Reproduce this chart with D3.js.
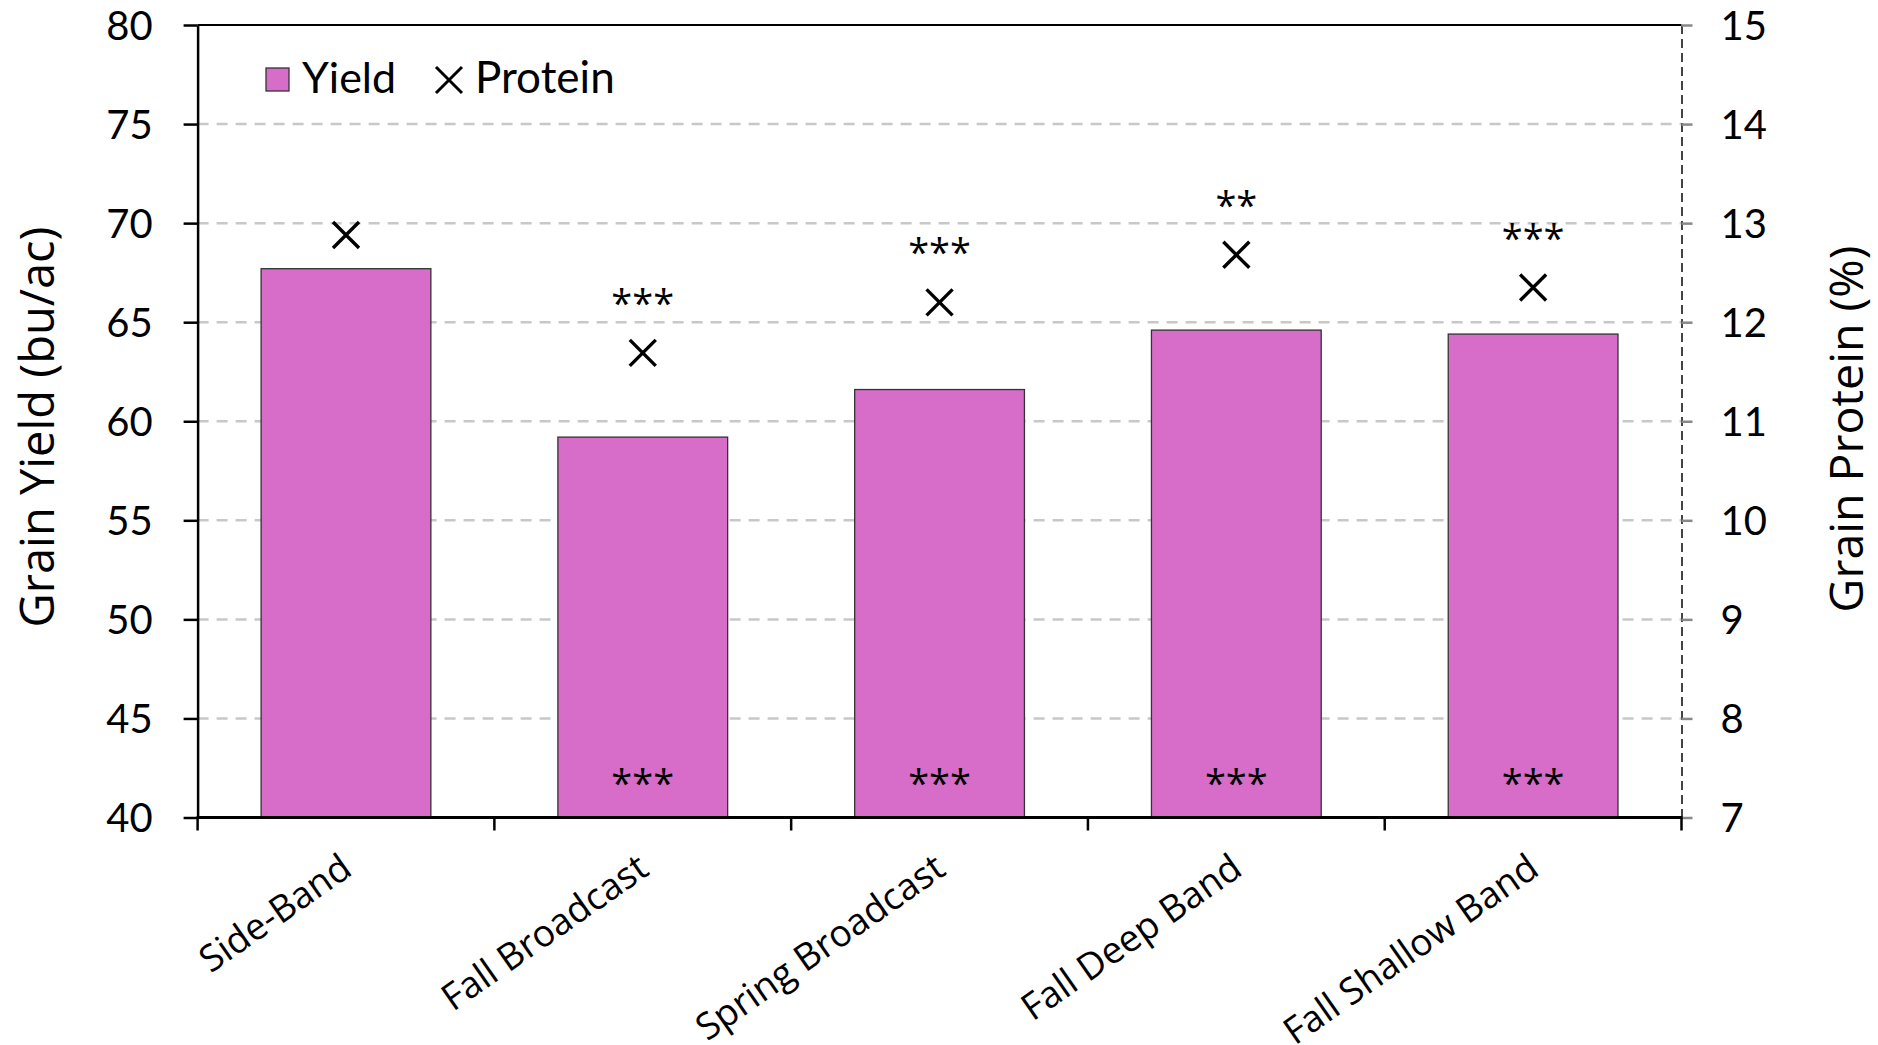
<!DOCTYPE html>
<html>
<head>
<meta charset="utf-8">
<script src="https://cdn.jsdelivr.net/npm/d3@7/dist/d3.min.js"></script>
<style>
  html, body { margin: 0; padding: 0; background: #fff; }
  svg { display: block; }
</style>
</head>
<body>
<svg id="chart" width="1878" height="1045"></svg>
<script>
// ---- data ----
const categories = ["Side-Band", "Fall Broadcast", "Spring Broadcast", "Fall Deep Band", "Fall Shallow Band"];
const yieldValues = [67.7, 59.2, 61.6, 64.6, 64.4];
const proteinValues = [12.88, 11.69, 12.2, 12.68, 12.35];
const proteinSig = ["", "***", "***", "**", "***"];
const yieldSig = ["", "***", "***", "***", "***"];
const yieldTicks = [40, 45, 50, 55, 60, 65, 70, 75, 80];
const proteinTicks = [7, 8, 9, 10, 11, 12, 13, 14, 15];
const gridValues = [45, 50, 55, 60, 65, 70, 75];

// ---- layout ----
const plotL = 197.6, plotR = 1681.5, plotT = 25, plotB = 817.5;
const svg = d3.select("#chart");
const numFont = "Lato, 'Liberation Sans', sans-serif";
const txtFont = "'Open Sans', 'Noto Sans', sans-serif";

const x = d3.scaleBand().domain(categories).range([plotL, plotR]).paddingInner(0.428).paddingOuter(0.214);
const yL = d3.scaleLinear().domain([40, 80]).range([plotB, plotT]);
const yR = d3.scaleLinear().domain([7, 15]).range([plotB, plotT]);

// gridlines
svg.append("g").selectAll("line").data(gridValues).join("line")
  .attr("x1", plotL).attr("x2", plotR)
  .attr("y1", d => yL(d)).attr("y2", d => yL(d))
  .attr("stroke", "#c8c8c8").attr("stroke-width", 2.5)
  .attr("stroke-dasharray", "11,8");

// bars
svg.append("g").selectAll("rect").data(categories).join("rect")
  .attr("x", d => x(d))
  .attr("width", x.bandwidth())
  .attr("y", (d, i) => yL(yieldValues[i]))
  .attr("height", (d, i) => yL(40) - yL(yieldValues[i]))
  .attr("fill", "#d76dc8")
  .attr("stroke", "#333")
  .attr("stroke-width", 1.3);

// yield significance inside bars
svg.append("g").selectAll("text").data(categories).join("text")
  .attr("x", d => x(d) + x.bandwidth() / 2)
  .attr("y", yL(40) - 21)
  .attr("text-anchor", "middle")
  .attr("font-family", txtFont).attr("font-size", 38)
  .attr("fill", "#000")
  .text((d, i) => yieldSig[i]);

// protein markers (x)
const ms = 13;
const pm = svg.append("g").selectAll("g").data(categories).join("g")
  .attr("transform", (d, i) => `translate(${x(d) + x.bandwidth() / 2},${yR(proteinValues[i])})`);
pm.append("path")
  .attr("d", `M${-ms},${-ms}L${ms},${ms}M${-ms},${ms}L${ms},${-ms}`)
  .attr("stroke", "#000").attr("stroke-width", 3.4).attr("fill", "none");

// protein significance
svg.append("g").selectAll("text").data(categories).join("text")
  .attr("x", d => x(d) + x.bandwidth() / 2)
  .attr("y", (d, i) => yR(proteinValues[i]) - 36)
  .attr("text-anchor", "middle")
  .attr("font-family", txtFont).attr("font-size", 38)
  .attr("fill", "#000")
  .text((d, i) => proteinSig[i]);

// top border
svg.append("line").attr("x1", plotL).attr("x2", plotR).attr("y1", plotT).attr("y2", plotT)
  .attr("stroke", "#000").attr("stroke-width", 2);

// left axis
const gL = svg.append("g").attr("transform", `translate(${plotL},0)`)
  .call(d3.axisLeft(yL).tickValues(yieldTicks).tickSize(14).tickPadding(31).tickSizeOuter(0));
gL.select(".domain").attr("stroke", "#000").attr("stroke-width", 2.5);
gL.selectAll(".tick line").attr("stroke", "#000").attr("stroke-width", 2.5);
gL.selectAll(".tick text").attr("font-family", numFont).attr("font-size", 40).attr("fill", "#000")
  .attr("dy", "0.36em");

// right axis
const gR = svg.append("g").attr("transform", `translate(${plotR},0)`)
  .call(d3.axisRight(yR).tickValues(proteinTicks).tickSize(11).tickPadding(28).tickSizeOuter(0));
gR.select(".domain").attr("stroke", "#444").attr("stroke-width", 2).attr("stroke-dasharray", "9,5");
gR.selectAll(".tick line").attr("stroke", "#888").attr("stroke-width", 2.5);
gR.selectAll(".tick text").attr("font-family", numFont).attr("font-size", 40).attr("fill", "#000")
  .attr("dy", "0.36em");

// bottom axis: ticks at band boundaries
const step = x.step();
const boundaries = categories.map(c => x(c) - step * x.paddingInner() / 2).concat([plotR]);
svg.append("g").selectAll("line").data(boundaries).join("line")
  .attr("x1", d => d).attr("x2", d => d)
  .attr("y1", plotB).attr("y2", plotB + 13)
  .attr("stroke", "#000").attr("stroke-width", 2.5);
svg.append("line").attr("x1", plotL - 1).attr("x2", plotR + 1).attr("y1", plotB).attr("y2", plotB)
  .attr("stroke", "#000").attr("stroke-width", 3);

// x labels
svg.append("g").selectAll("text").data(categories).join("text")
  .attr("transform", d => `translate(${x(d) + x.bandwidth() / 2 + 8},${plotB + 56}) rotate(-35)`)
  .attr("text-anchor", "end")
  .attr("font-family", txtFont).attr("font-size", 37)
  .attr("fill", "#000")
  .text(d => d);

// axis titles
svg.append("text")
  .attr("transform", `translate(${54},${427}) rotate(-90)`)
  .attr("text-anchor", "middle")
  .attr("font-family", txtFont).attr("font-size", 47).attr("fill", "#000")
  .text("Grain Yield (bu/ac)");
svg.append("text")
  .attr("transform", `translate(${1863},${429}) rotate(-90)`)
  .attr("text-anchor", "middle")
  .attr("font-family", txtFont).attr("font-size", 46.5).attr("fill", "#000")
  .text("Grain Protein (%)");

// legend
const lg = svg.append("g");
lg.append("rect").attr("x", 266).attr("y", 68).attr("width", 23).attr("height", 23)
  .attr("fill", "#d76dc8").attr("stroke", "#333").attr("stroke-width", 1.3);
lg.append("text").attr("x", 302).attr("y", 93)
  .attr("font-family", numFont).attr("font-size", 43).attr("fill", "#000").text("Yield");
const lm = 13;
lg.append("path")
  .attr("transform", "translate(449,80)")
  .attr("d", `M${-lm},${-lm}L${lm},${lm}M${-lm},${lm}L${lm},${-lm}`)
  .attr("stroke", "#000").attr("stroke-width", 3).attr("fill", "none");
lg.append("text").attr("x", 475).attr("y", 93)
  .attr("font-family", numFont).attr("font-size", 44).attr("fill", "#000").text("Protein");
</script>
</body>
</html>
